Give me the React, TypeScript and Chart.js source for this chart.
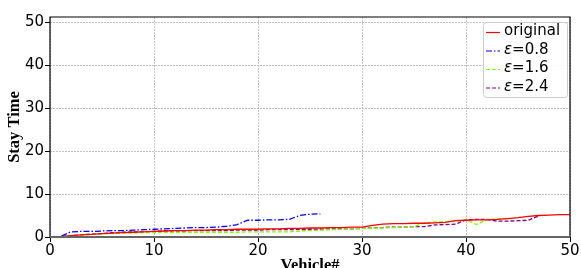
import React, { useEffect, useRef } from "react";
import { Chart, registerables } from "chart.js";

Chart.register(...registerables);

const xTicks = [0, 10, 20, 30, 40, 50];
const yTicks = [0, 10, 20, 30, 40, 50];

const original = [
  0, 0.1, 0.3, 0.5, 0.6, 0.8, 0.9, 1.0, 1.1, 1.2, 1.3, 1.4, 1.5, 1.5, 1.6, 1.6, 1.7, 1.7, 1.8, 1.8,
  1.8, 1.9, 1.9, 2.0, 2.0, 2.1, 2.1, 2.2, 2.2, 2.3, 2.3, 2.7, 3.0, 3.1, 3.1, 3.2, 3.2, 3.3, 3.4, 3.8,
  3.9, 4.0, 4.0, 4.1, 4.3, 4.5, 4.8, 5.0, 5.1, 5.2, 5.2,
];
const eps08 = [
  0, 0.1, 1.2, 1.3, 1.3, 1.4, 1.5, 1.5, 1.6, 1.7, 1.8, 1.9, 2.0, 2.1, 2.2, 2.2, 2.3, 2.5, 2.9, 3.9,
  3.9, 4.0, 4.0, 4.1, 5.0, 5.3, 5.4,
];
const eps16 = [
  0, 0.1, 0.2, 0.4, 0.6, 0.7, 0.8, 0.9, 0.9, 1.0, 1.0, 1.1, 1.1, 1.1, 1.1, 1.1, 1.1, 1.1, 1.1, 1.2,
  1.2, 1.2, 1.2, 1.2, 1.4, 1.5, 1.6, 1.7, 1.8, 1.9, 2.0, 2.1, 2.1, 2.2, 2.3, 2.4, 3.3, 3.5, 3.6, 3.7,
  4.0, 2.9, 4.0, 4.2, 4.3,
];
const eps24 = [
  0, 0.1, 0.3, 0.5, 0.7, 0.8, 1.0, 1.1, 1.2, 1.2, 1.3, 1.4, 1.4, 1.4, 1.5, 1.5, 1.5, 1.5, 1.6, 1.6,
  1.6, 1.7, 1.7, 1.7, 1.8, 1.8, 1.8, 1.9, 1.9, 1.9, 2.0, 2.2, 2.2, 2.3, 2.3, 2.4, 2.4, 2.8, 2.9, 3.0,
  4.0, 4.1, 4.1, 3.7, 3.7, 3.8, 3.9, 4.9,
];

const seriesNames = ["original", "0.8", "1.6", "2.4"];
const seriesColors = ["#ff0000", "#0000ff", "#7fff00", "#800080"];
const seriesDash = [[], [6, 2, 1.5, 2], [4, 2], [4, 2]];

const toPts = (arr: number[]) => arr.map((y, i) => ({ x: i, y }));

export default function App() {
  const ref = useRef<HTMLCanvasElement | null>(null);

  useEffect(() => {
    document.body.style.margin = "0";
    const canvas = ref.current;
    if (!canvas) return;

    const framePlugin = {
      id: "frame",
      afterDraw(chart: any) {
        const { ctx, chartArea } = chart;
        const { left, right, top, bottom } = chartArea;
        ctx.save();
        ctx.strokeStyle = "#000";
        ctx.lineWidth = 1.2;
        ctx.beginPath();
        ctx.moveTo(left, bottom);
        ctx.lineTo(left, top);
        ctx.lineTo(right, top);
        ctx.lineTo(right, bottom);
        ctx.stroke();
        ctx.strokeStyle = "#666";
        ctx.lineWidth = 2;
        ctx.beginPath();
        ctx.moveTo(left, bottom);
        ctx.lineTo(right, bottom);
        ctx.stroke();

        // axis titles
        ctx.fillStyle = "#000";
        ctx.font = "bold 16.5px 'Liberation Serif', 'Times New Roman', serif";
        ctx.textAlign = "center";
        ctx.textBaseline = "middle";
        ctx.save();
        ctx.translate(15, (top + bottom) / 2);
        ctx.rotate(-Math.PI / 2);
        ctx.fillText("Stay Time", 0, 0);
        ctx.restore();
        ctx.fillText("Vehicle#", (left + right) / 2, 266);

        // legend
        const lx = 483, ly = 22, lw = 84, lh = 75;
        ctx.fillStyle = "rgba(255,255,255,0.9)";
        ctx.strokeStyle = "#cccccc";
        ctx.lineWidth = 1;
        ctx.beginPath();
        (ctx as any).roundRect(lx + 0.5, ly + 0.5, lw, lh, 3);
        ctx.fill();
        ctx.stroke();
        const rows = [31.5, 50, 68.5, 87];
        seriesNames.forEach((name, i) => {
          const y = rows[i];
          ctx.strokeStyle = seriesColors[i];
          ctx.lineWidth = 1.2;
          ctx.setLineDash(seriesDash[i]);
          ctx.beginPath();
          ctx.moveTo(486, y + 1);
          ctx.lineTo(500, y + 1);
          ctx.stroke();
          ctx.setLineDash([]);
          ctx.fillStyle = "#000";
          ctx.textAlign = "left";
          ctx.textBaseline = "middle";
          if (i === 0) {
            ctx.font = "15px 'DejaVu Sans', sans-serif";
            ctx.fillText(name, 504, y);
          } else {
            ctx.font = "italic 15px 'DejaVu Sans', sans-serif";
            ctx.fillText("\u03b5", 504, y);
            const w = ctx.measureText("\u03b5").width;
            ctx.font = "15px 'DejaVu Sans', sans-serif";
            ctx.fillText("=" + name, 504 + w, y);
          }
        });
        ctx.restore();
      },
    };

    const gridOpts = { color: "#c4c4c4", lineWidth: 1, tickLength: 5, tickColor: "#000", drawTicks: true };

    const chart = new Chart(canvas, {
      type: "line",
      data: {
        datasets: [original, eps08, eps16, eps24].map((arr, i) => ({
          label: seriesNames[i],
          data: toPts(arr),
          borderColor: seriesColors[i],
          backgroundColor: seriesColors[i],
          borderWidth: 1.3,
          borderDash: seriesDash[i],
          pointRadius: 0,
          tension: 0,
          fill: false,
        })),
      },
      options: {
        responsive: false,
        animation: false,
        layout: { padding: { top: 17, right: 11, left: 0, bottom: 0 } },
        plugins: { legend: { display: false }, tooltip: { enabled: false } },
        scales: {
          x: {
            type: "linear",
            min: 0,
            max: 50,
            afterFit: (s: any) => {
              s.height = 31;
            },
            afterBuildTicks: (s: any) => {
              s.ticks = xTicks.map((v) => ({ value: v }));
            },
            ticks: {
              color: "#000",
              font: { family: "'DejaVu Sans', sans-serif", size: 15 },
              padding: 0,
              maxRotation: 0,
            },
            grid: gridOpts,
            border: { display: false, dash: [2, 1] },
          },
          y: {
            type: "linear",
            min: 0,
            max: 51.2,
            afterFit: (s: any) => {
              s.width = 50;
            },
            afterBuildTicks: (s: any) => {
              s.ticks = yTicks.map((v) => ({ value: v }));
            },
            ticks: {
              color: "#000",
              font: { family: "'DejaVu Sans', sans-serif", size: 15 },
              padding: 1,
            },
            grid: gridOpts,
            border: { display: false, dash: [2, 1] },
          },
        },
      },
      plugins: [framePlugin],
    } as any);

    return () => chart.destroy();
  }, []);

  return (
    <canvas ref={ref} width={581} height={268} style={{ display: "block", width: 581, height: 268 }} />
  );
}
